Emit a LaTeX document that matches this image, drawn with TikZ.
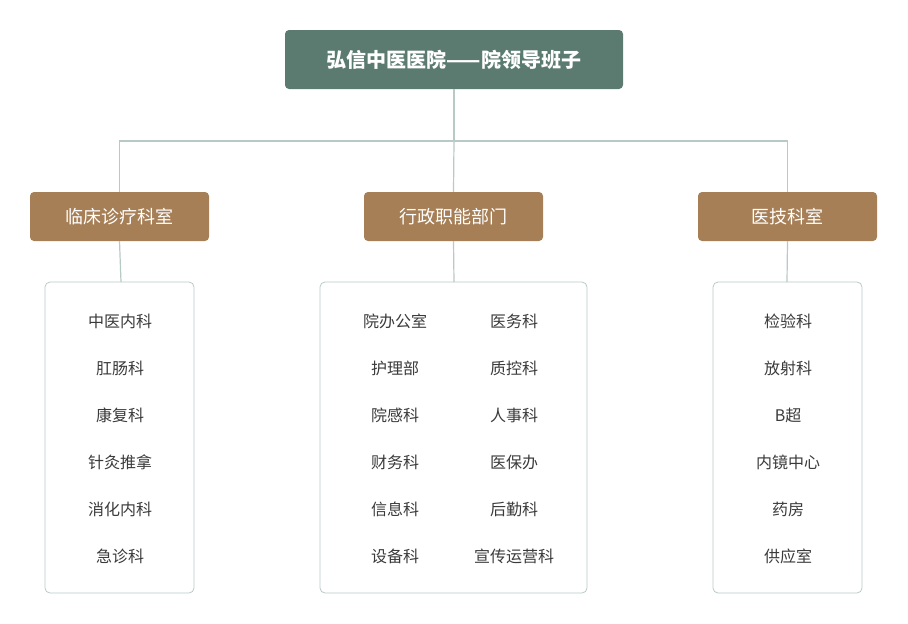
\documentclass[tikz,border=0pt]{standalone}
\usepackage{fontspec}
\setmainfont{Noto Sans CJK SC}
\usetikzlibrary{positioning}
\definecolor{topgreen}{HTML}{5B7B70}
\definecolor{brown}{HTML}{A67F56}
\definecolor{linegray}{HTML}{B8CAC6}
\definecolor{textgray}{HTML}{3A3A3A}
\begin{document}
\begin{tikzpicture}[x=1pt,y=-1pt,
  top/.style={fill=topgreen,rounded corners=4pt,text=white,font=\fontsize{20}{24}\selectfont\bfseries,minimum width=338pt,minimum height=59pt},
  dept/.style={fill=brown,rounded corners=4pt,text=white,font=\fontsize{18}{22}\selectfont,minimum width=179pt,minimum height=49pt},
  list/.style={draw=linegray,rounded corners=5pt,line width=0.8pt},
  item/.style={text=textgray,font=\fontsize{16}{20}\selectfont},
  link/.style={draw=linegray,line width=1.2pt}]
\useasboundingbox (0,0) rectangle (908,624);
\node[top] (lead) at (454,59.5) {弘信中医医院——院领导班子};
\node[dept] (clin) at (119.5,216.5) {临床诊疗科室};
\node[dept] (admin) at (453.5,216.5) {行政职能部门};
\node[dept] (tech) at (787.5,216.5) {医技科室};
\draw[list] (45,282) rectangle (194,593);
\draw[list] (320,282) rectangle (587,593);
\draw[list] (713,282) rectangle (862,593);
\coordinate (lclin) at (121,282);
\coordinate (ladmin) at (454,282);
\coordinate (ltech) at (787,282);
\coordinate (bar) at (454,141);
% connectors
\draw[link] (lead.south) -- (bar);
\draw[link] (clin.north) |- (bar) -| (tech.north);
\draw[link] (bar) -- (admin.north);
\draw[link] (clin.south) -- (lclin);
\draw[link] (admin.south) -- (ladmin);
\draw[link] (tech.south) -- (ltech);
% items
\foreach \t [count=\i] in {中医内科,肛肠科,康复科,针灸推拿,消化内科,急诊科}
  \node[item] (c\i) at (120,274+47*\i) {\t};
\foreach \t [count=\i] in {院办公室,护理部,院感科,财务科,信息科,设备科}
  \node[item] (a\i) at (395,274+47*\i) {\t};
\foreach \t [count=\i] in {医务科,质控科,人事科,医保办,后勤科,宣传运营科}
  \node[item] (b\i) at (514,274+47*\i) {\t};
\foreach \t [count=\i] in {检验科,放射科,B超,内镜中心,药房,供应室}
  \node[item] (t\i) at (788,274+47*\i) {\t};
\end{tikzpicture}
\end{document}
